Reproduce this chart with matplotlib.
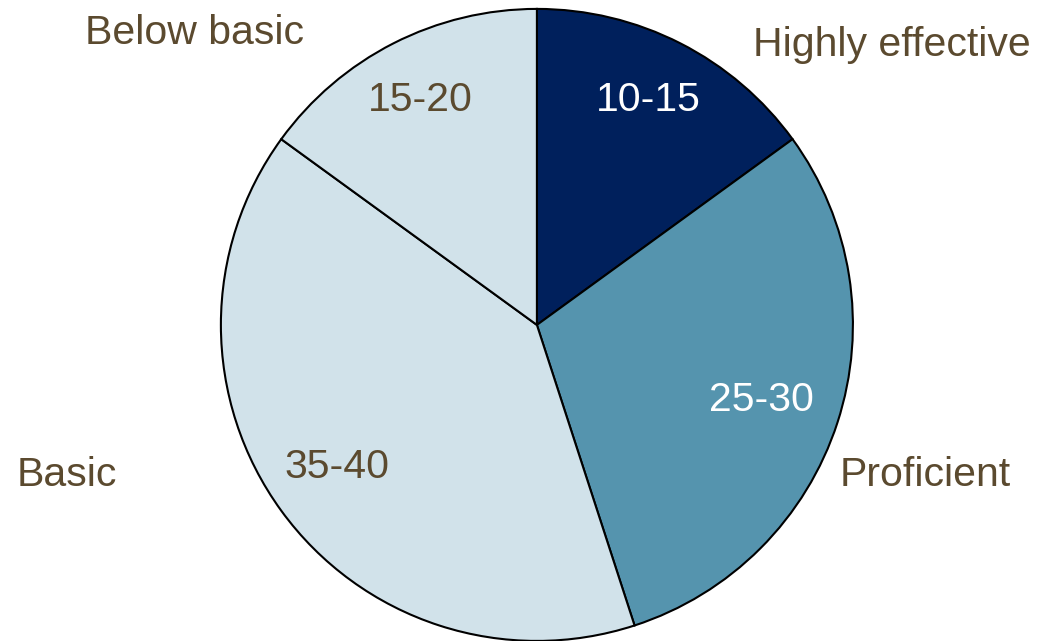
import matplotlib.pyplot as plt

plt.rcParams['font.family'] = ['Liberation Sans', 'DejaVu Sans']

# data, clockwise from 12 o'clock
categories = ['Highly effective', 'Proficient', 'Basic', 'Below basic']
shares = [15, 30, 40, 15]
ranges = ['10-15', '25-30', '35-40', '15-20']

colors = ['#00205C', '#5594AE', '#D1E2EA', '#D1E2EA']
range_colors = ['white', 'white', '#5B4A2F', '#5B4A2F']
brown = '#5B4A2F'

# label spots in pie-radius units (layout only)
cat_pos = [(1.123, 0.886), (1.228, -0.475), (-1.487, -0.475), (-1.082, 0.924)]
range_pos = [(0.351, 0.712), (0.712, -0.237), (-0.633, -0.449), (-0.370, 0.712)]

fig = plt.figure(figsize=(10.46, 6.41), dpi=100)
ax = fig.add_axes([0, 0, 1, 1])
ax.pie(shares, colors=colors, startangle=90, counterclock=False,
       radius=1, center=(0, 0),
       wedgeprops={'edgecolor': 'black', 'linewidth': 1.5})

for name, (x, y) in zip(categories, cat_pos):
    ax.text(x, y, name, ha='center', va='center', fontsize=29.5, color=brown)
for r, c, (x, y) in zip(ranges, range_colors, range_pos):
    ax.text(x, y, r, ha='center', va='center', fontsize=29.5, color=c)

ax.set_xlim(-1.699, 1.611)
ax.set_ylim(-1.0, 1.028)
ax.set_aspect('equal')
ax.axis('off')

fig.savefig('out.png', dpi=100)
